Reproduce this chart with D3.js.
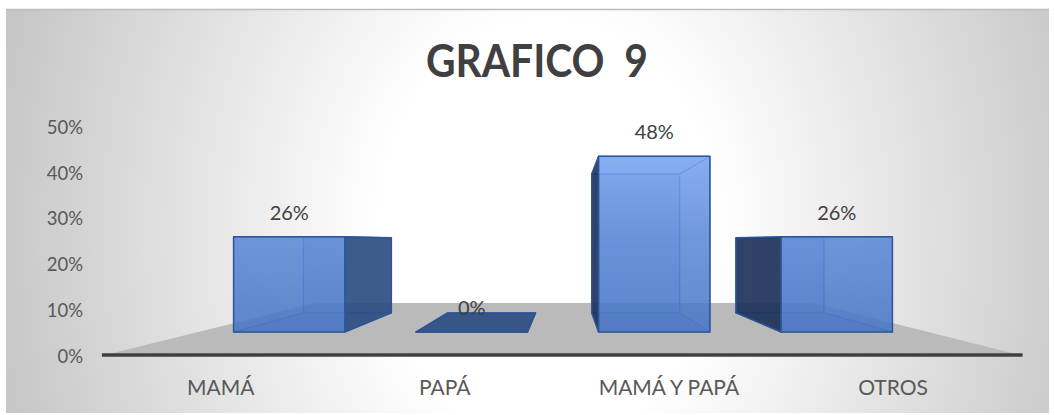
<!DOCTYPE html>
<html>
<head>
<meta charset="utf-8">
<script src="https://cdn.jsdelivr.net/npm/d3@7"></script>
<style>
  body { margin: 0; background: #fff; }
  text { font-family: Lato, "Open Sans", sans-serif; }
</style>
</head>
<body>
<div id="chart"></div>
<script>
// chart data
const categories = ["MAMÁ", "PAPÁ", "MAMÁ Y PAPÁ", "OTROS"];
const values = [0.26, 0, 0.48, 0.26];
const yTicks = [0, 0.1, 0.2, 0.3, 0.4, 0.5];
const chartTitle = "GRAFICO  9";

const width = 1054, height = 415;

const svg = d3.select("#chart").append("svg")
    .attr("width", width)
    .attr("height", height);

const defs = svg.append("defs");

// background: light radial fill, grey towards the sides
const bg = defs.append("radialGradient")
    .attr("id", "bgGrad")
    .attr("gradientUnits", "userSpaceOnUse")
    .attr("cx", 0).attr("cy", 0).attr("r", 1)
    .attr("gradientTransform", "translate(548,230) scale(560,700)");
bg.append("stop").attr("offset", 0).attr("stop-color", "#ffffff");
bg.append("stop").attr("offset", 0.3).attr("stop-color", "#ffffff");
bg.append("stop").attr("offset", 1).attr("stop-color", "#c6c6c6");

// front face gradient (lighter up high)
const fg = defs.append("linearGradient")
    .attr("id", "frontGrad")
    .attr("gradientUnits", "userSpaceOnUse")
    .attr("x1", 0).attr("x2", 0).attr("y1", 150).attr("y2", 332);
fg.append("stop").attr("offset", 0).attr("stop-color", "#78a4f2");
fg.append("stop").attr("offset", 0.47).attr("stop-color", "#5a88d8");
fg.append("stop").attr("offset", 1).attr("stop-color", "#4675c4");

svg.append("rect")
    .attr("x", 6).attr("y", 9)
    .attr("width", 1043).attr("height", 404)
    .attr("fill", "url(#bgGrad)");
svg.append("line")
    .attr("x1", 6).attr("x2", 1049).attr("y1", 9.5).attr("y2", 9.5)
    .attr("stroke", "#bdbdbd").attr("stroke-width", 1.5);

// title
svg.append("text")
    .attr("x", 537).attr("y", 77)
    .attr("text-anchor", "middle")
    .style("white-space", "pre")
    .attr("font-size", 45)
    .attr("font-weight", "bold")
    .attr("fill", "#404040")
    .attr("textLength", 222)
    .attr("lengthAdjust", "spacingAndGlyphs")
    .text(chartTitle);

// perspective set-up: vanishing point + depth factors
const vp = {x: 566, y: 241};
const depth = {floorFront: 1.253, barFront: 1, barBack: 0.79, floorBack: 0.681, label: 1.228};
const labelOriginX = 590;

const x = d3.scaleBand()
    .domain(categories)
    .range([198, 928])
    .paddingInner(0.39)
    .paddingOuter(0.195);

const y = d3.scaleLinear()
    .domain([0, 0.5])
    .range([332, 149]);

function proj(px, v, s) {
    return [vp.x + (px - vp.x) * s, vp.y + (y(v) - vp.y) * s];
}

const pctFmt = d3.format(".0%");

// floor
const [fx0, fx1] = x.range();
const floorPts = [
    proj(fx0, 0, depth.floorFront), proj(fx1, 0, depth.floorFront),
    proj(fx1, 0, depth.floorBack), proj(fx0, 0, depth.floorBack)
];
svg.append("polygon")
    .attr("points", floorPts.map(p => p.join(",")).join(" "))
    .attr("fill", "#bababa");

// y axis labels (front edge of the floor)
svg.append("g").selectAll("text")
    .data(yTicks)
    .join("text")
    .attr("x", 83)
    .attr("y", d => proj(fx0, d, depth.floorFront)[1] + 8)
    .attr("text-anchor", "end")
    .attr("font-size", 18.5)
    .attr("fill", "#595959")
    .text(d => pctFmt(d));

// bars
const barG = svg.append("g");
const bw = x.bandwidth();
const f = depth.barFront, b = depth.barBack;

function face(g, pts, fill, opacity, stroke, sw) {
    g.append("polygon")
        .attr("points", pts.map(p => p.join(",")).join(" "))
        .attr("fill", fill)
        .attr("fill-opacity", opacity)
        .attr("stroke", stroke)
        .attr("stroke-width", sw)
        .attr("stroke-linejoin", "round");
}

categories.forEach((c, i) => {
    const v = values[i];
    const x0 = x(c), x1 = x(c) + bw;
    const g = barG.append("g").attr("class", "bar");

    const back = [proj(x0, 0, b), proj(x1, 0, b), proj(x1, v, b), proj(x0, v, b)];
    const bottom = [proj(x0, 0, f), proj(x1, 0, f), proj(x1, 0, b), proj(x0, 0, b)];
    const top = [proj(x0, v, f), proj(x1, v, f), proj(x1, v, b), proj(x0, v, b)];
    const left = [proj(x0, 0, f), proj(x0, v, f), proj(x0, v, b), proj(x0, 0, b)];
    const right = [proj(x1, 0, f), proj(x1, v, f), proj(x1, v, b), proj(x1, 0, b)];
    const front = [proj(x0, 0, f), proj(x1, 0, f), proj(x1, v, f), proj(x0, v, f)];

    const leftVisible = x0 > vp.x;
    const rightVisible = x1 < vp.x;
    const topVisible = y(v) > vp.y;

    face(g, back, "#4472c4", 0.3, "#4a78c8", 1);
    face(g, bottom, "#2f5597", 0.25, "#4a78c8", 1);
    if (!leftVisible) face(g, left, "#4472c4", 0.08, "#4a78c8", 1);
    if (!rightVisible) face(g, right, "#4472c4", 0.08, "#4a78c8", 1);
    if (!topVisible) face(g, top, "#4472c4", 0.08, "#4a78c8", 1);

    if (leftVisible) face(g, left, "#1a2d55", 0.88, "#2f5597", 1.5);
    if (rightVisible) face(g, right, "#2a4a80", 0.88, "#2f5597", 1.5);
    if (topVisible) face(g, top, "#2a4a80", 0.88, "#2f5597", 1.5);

    face(g, front, "url(#frontGrad)", 0.85, "#2f5597", 1.5);
});

// data labels
svg.append("g").selectAll("text")
    .data(categories)
    .join("text")
    .attr("x", d => x(d) + bw / 2)
    .attr("y", (d, i) => y(values[i]) - 17)
    .attr("text-anchor", "middle")
    .attr("font-size", 20)
    .attr("fill", "#404040")
    .text((d, i) => pctFmt(values[i]));

// axis line along the floor front
const a0 = proj(fx0, 0, depth.floorFront), a1 = proj(fx1, 0, depth.floorFront);
svg.append("line")
    .attr("x1", a0[0] - 3).attr("x2", a1[0] + 3)
    .attr("y1", a0[1]).attr("y2", a1[1])
    .attr("stroke", "#404040")
    .attr("stroke-width", 3.5);

// category labels
svg.append("g").selectAll("text")
    .data(categories)
    .join("text")
    .attr("x", d => labelOriginX + (x(d) + bw / 2 - labelOriginX) * depth.label)
    .attr("y", 395)
    .attr("text-anchor", "middle")
    .attr("font-size", 21)
    .attr("fill", "#595959")
    .text(d => d);
</script>
</body>
</html>
